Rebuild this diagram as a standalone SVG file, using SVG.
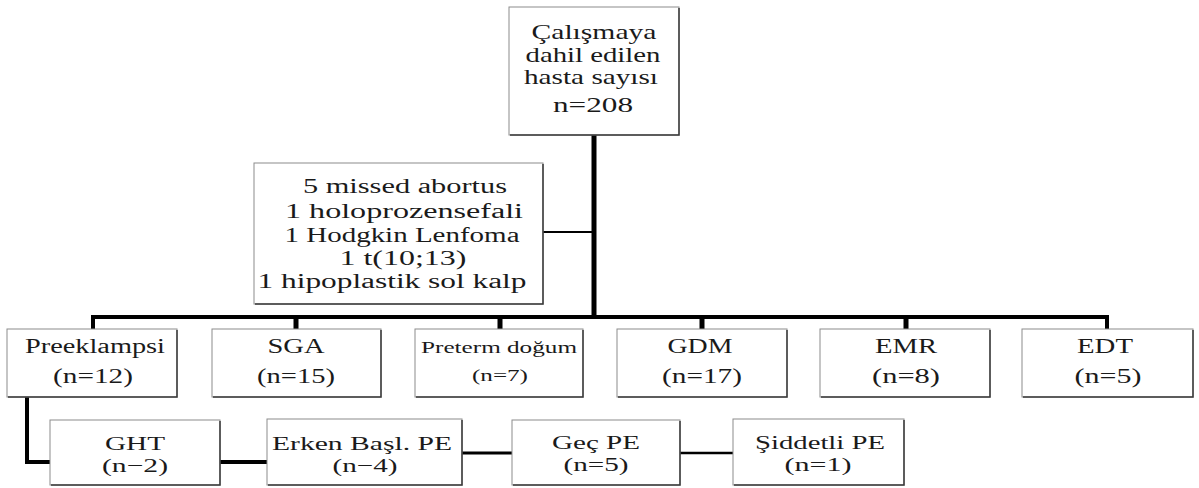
<svg xmlns="http://www.w3.org/2000/svg" width="1199" height="488" viewBox="0 0 1199 488">
<style>
  .box { fill: #ffffff; stroke: #8c8c8c; stroke-width: 1; }
  .sh { fill: none; stroke: #3a3a3a; stroke-width: 1.5; }
  text { font-family: "Liberation Serif", "Times New Roman", serif; fill: #1a1a1a; text-anchor: middle; }
  .c { fill: none; stroke: #000000; stroke-linejoin: miter; }
</style>
<rect width="1199" height="488" fill="#ffffff"/>
<g id="connectors">
  <path class="c" d="M594,135 V317" stroke-width="5"/>
  <path class="c" d="M93,329 V317 H1107 V329" stroke-width="4"/>
  <path class="c" d="M296,317 V329 M500,317 V329 M702,317 V329 M906,317 V329" stroke-width="5"/>
  <path class="c" d="M543,232 H594" stroke-width="2"/>
  <path class="c" d="M27,397 V462 H50" stroke-width="4"/>
  <path class="c" d="M220,462 H267" stroke-width="4"/>
  <path class="c" d="M462,453 H512" stroke-width="3"/>
  <path class="c" d="M680,453 H733" stroke-width="2.5"/>
</g>
<g id="node-total" font-size="21">
  <rect class="box" x="509" y="7" width="170" height="128"/>
  <path class="sh" d="M510,135 H679 V8"/>
  <text x="594" y="39" textLength="125" lengthAdjust="spacingAndGlyphs">Çalışmaya</text>
  <text x="593" y="62" textLength="135" lengthAdjust="spacingAndGlyphs">dahil edilen</text>
  <text x="591" y="84" textLength="134" lengthAdjust="spacingAndGlyphs">hasta sayısı</text>
  <text x="593" y="112" textLength="80" lengthAdjust="spacingAndGlyphs">n=208</text>
</g>
<g id="node-excluded" font-size="20">
  <rect class="box" x="254" y="163" width="289" height="141"/>
  <path class="sh" d="M255,304 H543 V164"/>
  <text x="405" y="193" textLength="204" lengthAdjust="spacingAndGlyphs">5 missed abortus</text>
  <text x="404" y="218" textLength="238" lengthAdjust="spacingAndGlyphs">1 holoprozensefali</text>
  <text x="402" y="242" textLength="235" lengthAdjust="spacingAndGlyphs">1 Hodgkin Lenfoma</text>
  <text x="403" y="265" textLength="127" lengthAdjust="spacingAndGlyphs">1 t(10;13)</text>
  <text x="392" y="288" textLength="269" lengthAdjust="spacingAndGlyphs">1 hipoplastik sol kalp</text>
</g>
<g id="node-preeklampsi" font-size="20">
  <rect class="box" x="7" y="329" width="170" height="68"/>
  <path class="sh" d="M8,397 H177 V330"/>
  <text x="95" y="353" textLength="140" lengthAdjust="spacingAndGlyphs">Preeklampsi</text>
  <text x="93" y="383" textLength="80" lengthAdjust="spacingAndGlyphs">(n=12)</text>
</g>
<g id="node-sga" font-size="20">
  <rect class="box" x="212" y="329" width="169" height="68"/>
  <path class="sh" d="M213,397 H381 V330"/>
  <text x="296" y="353" textLength="57" lengthAdjust="spacingAndGlyphs">SGA</text>
  <text x="296" y="383" textLength="78" lengthAdjust="spacingAndGlyphs">(n=15)</text>
</g>
<g id="node-preterm" font-size="17">
  <rect class="box" x="415" y="329" width="168" height="68"/>
  <path class="sh" d="M416,397 H583 V330"/>
  <text x="499" y="353" textLength="156" lengthAdjust="spacingAndGlyphs">Preterm doğum</text>
  <text x="500" y="381" textLength="56" lengthAdjust="spacingAndGlyphs">(n=7)</text>
</g>
<g id="node-gdm" font-size="20">
  <rect class="box" x="617" y="329" width="170" height="68"/>
  <path class="sh" d="M618,397 H787 V330"/>
  <text x="700" y="353" textLength="65" lengthAdjust="spacingAndGlyphs">GDM</text>
  <text x="702" y="383" textLength="80" lengthAdjust="spacingAndGlyphs">(n=17)</text>
</g>
<g id="node-emr" font-size="20">
  <rect class="box" x="820" y="329" width="170" height="68"/>
  <path class="sh" d="M821,397 H990 V330"/>
  <text x="906" y="353" textLength="62" lengthAdjust="spacingAndGlyphs">EMR</text>
  <text x="906" y="383" textLength="68" lengthAdjust="spacingAndGlyphs">(n=8)</text>
</g>
<g id="node-edt" font-size="20">
  <rect class="box" x="1022" y="329" width="171" height="68"/>
  <path class="sh" d="M1023,397 H1193 V330"/>
  <text x="1105" y="353" textLength="56" lengthAdjust="spacingAndGlyphs">EDT</text>
  <text x="1108" y="383" textLength="67" lengthAdjust="spacingAndGlyphs">(n=5)</text>
</g>
<g id="node-ght" font-size="19">
  <rect class="box" x="50" y="420" width="170" height="65"/>
  <path class="sh" d="M51,485 H220 V421"/>
  <text x="135" y="450" textLength="60" lengthAdjust="spacingAndGlyphs">GHT</text>
  <text x="135" y="472" textLength="66" lengthAdjust="spacingAndGlyphs">(n−2)</text>
</g>
<g id="node-erken" font-size="19">
  <rect class="box" x="267" y="419" width="195" height="66"/>
  <path class="sh" d="M268,485 H462 V420"/>
  <text x="362" y="450" textLength="180" lengthAdjust="spacingAndGlyphs">Erken Başl. PE</text>
  <text x="365" y="472" textLength="65" lengthAdjust="spacingAndGlyphs">(n−4)</text>
</g>
<g id="node-gec" font-size="19">
  <rect class="box" x="512" y="420" width="168" height="65"/>
  <path class="sh" d="M513,485 H680 V421"/>
  <text x="596" y="449" textLength="88" lengthAdjust="spacingAndGlyphs">Geç PE</text>
  <text x="596" y="471" textLength="65" lengthAdjust="spacingAndGlyphs">(n=5)</text>
</g>
<g id="node-siddetli" font-size="19">
  <rect class="box" x="733" y="419" width="171" height="66"/>
  <path class="sh" d="M734,485 H904 V420"/>
  <text x="820" y="449" textLength="130" lengthAdjust="spacingAndGlyphs">Şiddetli PE</text>
  <text x="818" y="471" textLength="67" lengthAdjust="spacingAndGlyphs">(n=1)</text>
</g>
</svg>
